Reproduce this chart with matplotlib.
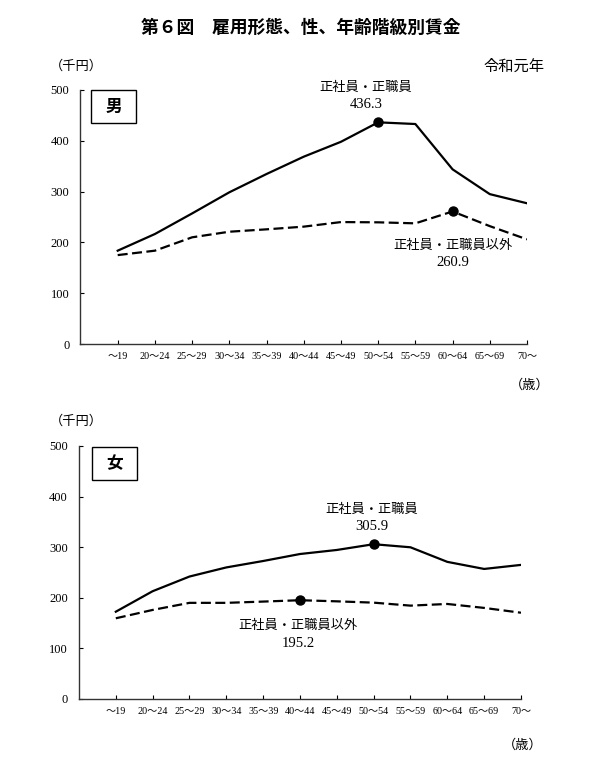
import matplotlib
matplotlib.use("Agg")
import matplotlib.pyplot as plt
from matplotlib.patches import Rectangle

plt.rcParams['font.family'] = ['Noto Sans CJK JP', 'DejaVu Sans']

# 年齢階級
ages = ["〜19", "20〜24", "25〜29", "30〜34", "35〜39", "40〜44",
        "45〜49", "50〜54", "55〜59", "60〜64", "65〜69", "70〜"]

# 男 (千円)
male_regular = [183.7, 216.5, 257.0, 298.6, 334.6, 368.7, 398.0, 436.3, 433.0, 343.8, 295.0, 277.0]
male_nonregular = [175.0, 183.7, 210.0, 221.0, 225.7, 231.0, 240.0, 239.5, 237.5, 260.9, 232.0, 206.0]

# 女 (千円)
female_regular = [172.5, 213.0, 242.0, 260.0, 272.7, 286.5, 294.5, 305.9, 299.8, 271.0, 257.0, 265.0]
female_nonregular = [159.5, 176.0, 190.0, 190.0, 192.5, 195.2, 193.0, 190.4, 184.5, 187.8, 180.0, 170.5]

yticks = [0, 100, 200, 300, 400, 500]

serif = ['Liberation Serif', 'Noto Sans CJK JP']
dash = (0, (4.5, 2))

fig = plt.figure(figsize=(6.02, 7.79), dpi=100)


def panel(rect, regular, nonregular, peak_reg, peak_non, pos_reg, pos_non):
    ax = fig.add_axes(rect)
    x = list(range(len(ages)))
    ax.plot(x, regular, color='black', lw=1.6, solid_joinstyle='round')
    ax.plot(x, nonregular, color='black', lw=1.6, linestyle=dash)
    ax.plot([peak_reg], [regular[peak_reg]], 'o', color='black', ms=6.5)
    ax.plot([peak_non], [nonregular[peak_non]], 'o', color='black', ms=6.5)

    ax.set_xlim(-1, len(ages) - 1)
    ax.set_ylim(0, 500)
    ax.set_xticks(x)
    ax.set_xticklabels(ages, family=serif, fontsize=7.3)
    ax.set_yticks(yticks)
    ax.set_yticklabels([str(v) for v in yticks], family=serif, fontsize=9)
    ax.tick_params(axis='both', direction='in', length=3, width=0.8, colors='black', pad=6)
    ax.tick_params(axis='y', pad=8)
    for s in ['top', 'right']:
        ax.spines[s].set_visible(False)
    for s in ['left', 'bottom']:
        ax.spines[s].set_linewidth(1.0)
        ax.spines[s].set_color('#333333')

    # ラベル
    ax.text(pos_reg[0], pos_reg[1], "正社員・正職員", ha='center', va='center',
            fontsize=9.5, clip_on=False)
    ax.text(pos_reg[0], pos_reg[2], f"{regular[peak_reg]:.1f}", ha='center', va='center',
            family=serif, fontsize=10.5, clip_on=False)
    ax.text(pos_non[0], pos_non[1], "正社員・正職員以外", ha='center', va='center',
            fontsize=9.5, clip_on=False)
    ax.text(pos_non[0], pos_non[2], f"{nonregular[peak_non]:.1f}", ha='center', va='center',
            family=serif, fontsize=10.5, clip_on=False)
    return ax


panel([0.1337, 0.5584, 0.7417, 0.3261], male_regular, male_nonregular,
      7, 9, (6.67, 506, 472), (9.0, 195, 159.5))
panel([0.1312, 0.1027, 0.7342, 0.3248], female_regular, female_nonregular,
      7, 5, (6.96, 375.5, 340), (4.95, 146, 110.6))

# 男・女 の枠
for (x0, y0, label) in [(91, 90, "男"), (92, 447, "女")]:
    w, h = 45, 33
    fig.add_artist(Rectangle((x0 / 602, 1 - (y0 + h) / 779), w / 602, h / 779,
                             transform=fig.transFigure, fill=False, lw=1.0, ec='black'))
    fig.text((x0 + w / 2) / 602, 1 - (y0 + h / 2) / 779, label, ha='center', va='center',
             fontsize=12, fontweight='bold')

fig.text(0.5, 1 - 28 / 779, "第６図　雇用形態、性、年齢階級別賃金", ha='center', va='center',
         fontsize=12.8, fontweight='bold')
fig.text(50 / 602, 1 - 66 / 779, "（千円）", ha='left', va='center', fontsize=9.5)
fig.text(50 / 602, 1 - 421 / 779, "（千円）", ha='left', va='center', fontsize=9.5)
fig.text(544 / 602, 1 - 66 / 779, "令和元年", ha='right', va='center', fontsize=11)
fig.text(530 / 602, 1 - 385 / 779, "（歳）", ha='center', va='center', fontsize=9.5)
fig.text(523 / 602, 1 - 745 / 779, "（歳）", ha='center', va='center', fontsize=9.5)

fig.savefig("out.png", dpi=100)
